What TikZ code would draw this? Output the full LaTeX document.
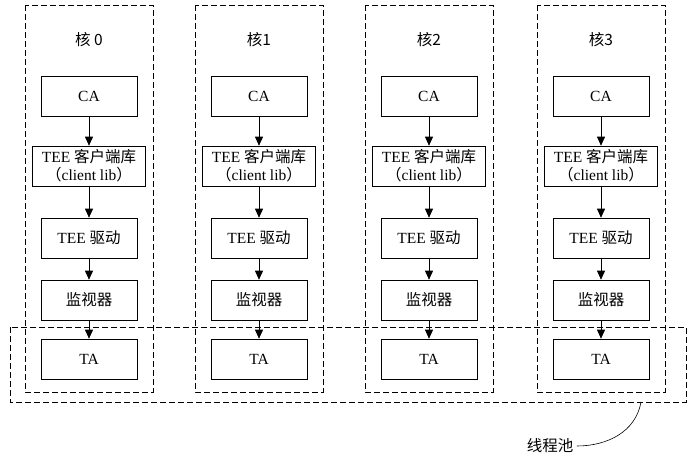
\documentclass[tikz,border=0pt]{standalone}
\usepackage{fontspec}
\setmainfont{Liberation Serif}
\newfontfamily\cjk{Noto Sans CJK SC}
\usetikzlibrary{arrows.meta}

\begin{document}
\begin{tikzpicture}[x=1pt,y=-1pt,font=\fontsize{15.5}{18}\selectfont,
	blk/.style={draw,line width=0.6pt,minimum width=96pt,minimum height=40pt,inner sep=1pt,align=center},
	core/.style={draw,line width=0.6pt,dash pattern=on 6pt off 3pt},
	arr/.style={line width=0.7pt,-{Triangle[length=9pt,width=8pt]}}]
	\useasboundingbox (0,0) rectangle (699,461);
	\foreach \i/\x/\lbl in {0/89/{核 0},1/259/核1,2/429/核2,3/601/核3}{
		\draw[core] (\x-64,5) rectangle (\x+64,392);
		\node (core\i) at (\x,40) {\cjk\lbl};
		\node[blk] (ca\i) at (\x,96) {CA};
		\node[blk,minimum width=113pt,inner sep=0pt] (lib\i) at (\x,166)
			{TEE {\cjk 客户端库}\\{\cjk （}client lib{\cjk ）}};
		\node[blk] (drv\i) at (\x,238) {TEE {\cjk 驱动}};
		\node[blk] (mon\i) at (\x,300) {\cjk 监视器};
		\node[blk] (ta\i) at (\x,359) {TA};
		\draw[arr] (ca\i) -- (lib\i);
		\draw[arr] (lib\i) -- (drv\i);
		\draw[arr] (drv\i) -- (mon\i);
		\draw[arr] (mon\i) -- (ta\i);
	}
	\draw[core] (10,327) rectangle (686,402);
	\coordinate (tip) at (641,402);
	\node (pool) at (550,446) {\cjk 线程池};
	\draw[line width=0.6pt] (pool.east) to[out=0,in=-100] (tip);
\end{tikzpicture}
\end{document}
